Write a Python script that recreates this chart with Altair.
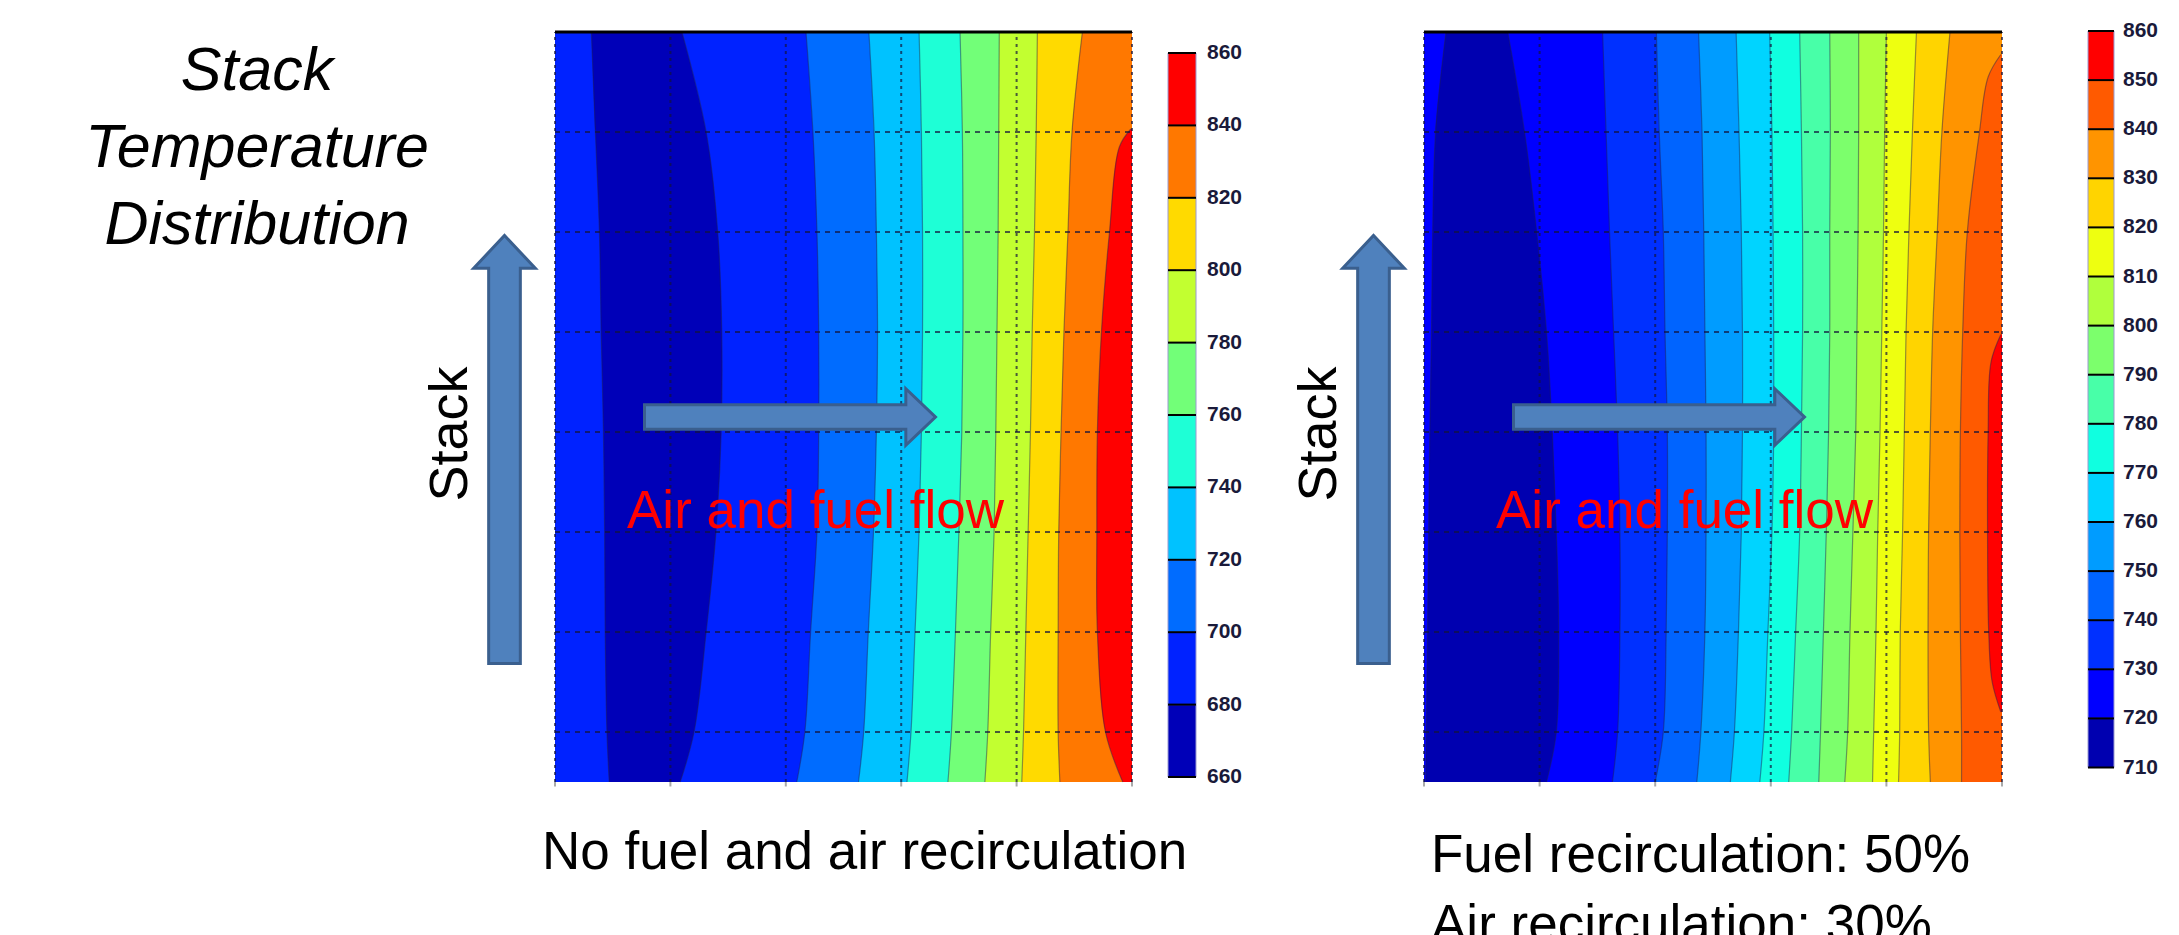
import altair as alt
import pandas as pd

# ---------------- data ----------------
Y_ROWS = [150, 130, 110, 90, 70, 50, 30, 10, 0]      # stack positions where contours were read
X_MAX = 100
Y_MAX = 150
GRID_X = [0, 20, 40, 60, 80, 100]
GRID_Y = [10, 30, 50, 70, 90, 110, 130]

# Left panel: no fuel and air recirculation (contour x-positions, % of flow length)
L_LEVELS = [660, 680, 700, 720, 740, 760, 780, 800, 820, 840, 860]
L_COLORS = ["#0000B8", "#0022FF", "#006CFF", "#00C2FF", "#1EFFD6",
            "#72FF78", "#C2FF30", "#FFDA00", "#FF7800", "#FF0000"]
L_CORE_W = [6.3, 7.0, 7.7, 8.0, 8.4, 8.6, 8.7, 9.0, 9.4]          # 680 contour, west side
L_CORE_E = [22.0, 26.2, 28.2, 28.9, 28.8, 27.9, 26.2, 24.1, 21.7]  # 680 contour, east side
L_CONTOUR_LEVELS = [700, 720, 740, 760, 780, 800, 820]
L_C700 = [43.5, 44.7, 45.4, 45.7, 45.7, 45.4, 44.3, 43.3, 41.9]
L_C720 = [54.4, 55.3, 55.7, 55.9, 55.7, 55.2, 54.3, 53.5, 52.6]
L_C740 = [63.1, 63.5, 63.7, 63.7, 63.5, 63.1, 62.4, 61.7, 61.0]
L_C760 = [70.2, 70.6, 70.7, 70.7, 70.5, 70.0, 69.4, 68.7, 68.1]
L_C780 = [77.0, 76.9, 76.8, 76.6, 76.4, 76.1, 75.5, 75.0, 74.5]
L_C800 = [83.6, 83.4, 83.1, 82.7, 82.4, 82.0, 81.6, 81.2, 80.9]
L_C820 = [91.4, 89.6, 88.9, 88.2, 87.7, 87.3, 87.2, 87.2, 87.5]
L_HOT_Y = [130.6, 127, 110, 90, 70, 50, 30, 10, 0]                 # 840 contour
L_HOT_X = [99.8, 97.8, 96.1, 94.7, 94.0, 93.9, 94.0, 95.4, 98.4]

# Right panel: fuel recirculation 50 %, air recirculation 30 %
R_LEVELS = [710, 720, 730, 740, 750, 760, 770, 780, 790, 800, 810, 820, 830, 840, 850, 860]
R_COLORS = ["#0000B0", "#0000FF", "#0030FF", "#0064FF", "#009CFF", "#00D4FF",
            "#10FFE0", "#48FFA8", "#7CFF6C", "#B0FF3C", "#EEFF10", "#FFD400",
            "#FF9400", "#FF5A00", "#FF0000"]
R_CORE_W = [3.8, 2.0, 1.5, 1.3, 1.0, 0.8, 0.6, 0.4, 0.3]             # 720 contour, west side
R_CORE_E = [14.5, 17.4, 19.5, 21.2, 22.2, 22.9, 23.3, 22.9, 21.2]    # 720 contour, east side
R_CONTOUR_LEVELS = [730, 740, 750, 760, 770, 780, 790, 800, 810, 820, 830]
R_C730 = [30.9, 31.5, 32.1, 32.8, 33.5, 33.9, 33.9, 33.5, 32.6]
R_C740 = [40.2, 40.7, 41.4, 41.7, 42.1, 42.1, 41.9, 41.4, 40.0]
R_C750 = [47.5, 48.1, 48.4, 48.6, 48.8, 48.8, 48.6, 47.9, 47.2]
R_C760 = [54.0, 54.5, 54.9, 55.1, 55.1, 54.9, 54.4, 53.7, 53.0]
R_C770 = [59.8, 60.2, 60.4, 60.5, 60.5, 60.2, 59.5, 58.8, 58.1]
R_C780 = [65.0, 65.3, 65.5, 65.5, 65.3, 65.0, 64.3, 63.6, 63.1]
R_C790 = [70.2, 70.3, 70.2, 70.2, 70.0, 69.6, 69.1, 68.6, 68.3]
R_C800 = [75.2, 75.2, 75.1, 74.9, 74.7, 74.2, 73.7, 73.3, 72.8]
R_C810 = [80.0, 79.7, 79.5, 79.2, 78.9, 78.5, 78.2, 77.8, 77.6]
R_C820 = [85.2, 84.5, 83.9, 83.4, 83.1, 82.8, 82.4, 82.3, 82.1]
R_C830 = [91.0, 89.6, 88.8, 88.0, 87.6, 87.3, 87.2, 87.3, 87.6]
R_HOT1_Y = [145.5, 141, 130, 110, 90, 70, 50, 30, 10, 0]             # 840 contour
R_HOT1_X = [99.8, 97.6, 96.1, 94.0, 93.2, 92.8, 92.7, 92.8, 93.0, 93.0]
R_HOT2_Y = [89.5, 84, 70, 50, 30, 20, 14]                             # 850 contour
R_HOT2_X = [99.8, 98.1, 97.6, 97.5, 97.7, 98.3, 99.8]

TITLE_LINES = ["Stack", "Temperature", "Distribution"]
AXIS_LABEL = "Stack"
FLOW_LABEL = "Air and fuel flow"
LEFT_CAPTION = ["No fuel and air recirculation"]
RIGHT_CAPTION = ["Fuel recirculation: 50%", "Air recirculation: 30%"]

# ---------------- layout ----------------
FONT = "Liberation Sans"
H = 912
W_A, W_B, W_C, W_D, W_E = 547, 577, 292, 578, 169
ARROW_FILL = "#4F81BD"
ARROW_EDGE = "#3A5F8E"
H_ARROW = "M -1 -0.085 L 0.796 -0.085 L 0.796 -0.194 L 1 0 L 0.796 0.194 L 0.796 0.085 L -1 0.085 Z"
V_ARROW = "M -0.074 1 L -0.074 -0.847 L -0.144 -0.847 L 0 -1 L 0.144 -0.847 L 0.074 -0.847 L 0.074 1 Z"


def lin_domain(v_top, px_top, v_bot, px_bot):
    k = (v_top - v_bot) / (px_bot - px_top)
    return [v_bot - (H - px_bot) * k, v_top + px_top * k]


PANEL_YDOM = lin_domain(Y_MAX, 24, 0, 774)
LCB_YDOM = lin_domain(860, 45, 660, 769)
RCB_YDOM = lin_domain(860, 23, 710, 759.5)


def one():
    return pd.DataFrame({"k": [0]})


def build(levels, colors, bg_band, core_band, core_w, core_e, contour_levels, contour_xs, hots):
    col = dict(zip(levels[:-1], colors))
    regions, lines = [], []
    regions.append(pd.DataFrame({"y": [0, Y_MAX], "x0": [0, 0], "x1": [X_MAX, X_MAX],
                                 "col": [col[bg_band]] * 2}))
    regions.append(pd.DataFrame({"y": Y_ROWS, "x0": core_w, "x1": core_e,
                                 "col": [col[core_band]] * len(Y_ROWS)}))
    for y, a, b in zip(Y_ROWS, core_w, core_e):
        lines.append(dict(line=0, y=y, x=a))
        lines.append(dict(line=1, y=y, x=b))
    lid = 2
    for band, xs in zip(contour_levels, contour_xs):
        regions.append(pd.DataFrame({"y": Y_ROWS, "x0": xs, "x1": [X_MAX] * len(xs),
                                     "col": [col[band]] * len(xs)}))
        for y, x in zip(Y_ROWS, xs):
            lines.append(dict(line=lid, y=y, x=x))
        lid += 1
    for band, ys, xs in hots:
        regions.append(pd.DataFrame({"y": ys, "x0": xs, "x1": [X_MAX] * len(xs),
                                     "col": [col[band]] * len(xs)}))
        for y, x in zip(ys, xs):
            lines.append(dict(line=lid, y=y, x=x))
        lid += 1
    return regions, pd.DataFrame(lines)


def arrow(shape, length, x, y):
    return alt.Chart(one()).mark_point(
        shape=shape, size=length ** 2, filled=True, fill=ARROW_FILL, stroke=ARROW_EDGE,
        strokeWidth=3, opacity=1
    ).encode(x=alt.value(x), y=alt.value(y))


def text(t, x, y, size, **kw):
    return alt.Chart(one()).mark_text(text=t, font=FONT, fontSize=size, **kw).encode(
        x=alt.value(x), y=alt.value(y))


def panel(regions, lines_df, width, captions, cap_x, cap_y):
    xs = alt.Scale(domain=[0, X_MAX], nice=False, zero=False)
    ys = alt.Scale(domain=PANEL_YDOM, nice=False, zero=False)
    layers = []
    for reg in regions:
        layers.append(
            alt.Chart(reg)
            .mark_area(orient="horizontal", interpolate="catmull-rom", clip=True, opacity=1)
            .encode(x=alt.X("x0:Q", scale=xs, axis=None), x2="x1:Q",
                    y=alt.Y("y:Q", scale=ys, axis=None),
                    color=alt.Color("col:N", scale=None)))
    layers.append(
        alt.Chart(lines_df).mark_line(interpolate="catmull-rom", clip=True, strokeWidth=1.2,
                                      color="#202050", opacity=0.45)
        .encode(x=alt.X("x:Q", scale=xs, axis=None), y=alt.Y("y:Q", scale=ys, axis=None),
                detail="line:N", order="y:Q"))
    hgrid = pd.DataFrame({"gy": GRID_Y, "a": [0] * len(GRID_Y), "b": [X_MAX] * len(GRID_Y)})
    layers.append(
        alt.Chart(hgrid).mark_rule(strokeDash=[5, 5], strokeWidth=2, color="#14143c", opacity=0.7)
        .encode(y=alt.Y("gy:Q", scale=ys, axis=None), x=alt.X("a:Q", scale=xs, axis=None), x2="b:Q"))
    vgrid = pd.DataFrame({"gx": GRID_X, "a": [0] * len(GRID_X), "b": [Y_MAX] * len(GRID_X),
                          "t": [-0.9] * len(GRID_X)})
    layers.append(
        alt.Chart(vgrid).mark_rule(strokeDash=[3, 4], strokeWidth=2, color="#14143c", opacity=0.7)
        .encode(x=alt.X("gx:Q", scale=xs, axis=None), y=alt.Y("a:Q", scale=ys, axis=None), y2="b:Q"))
    layers.append(
        alt.Chart(vgrid).mark_rule(strokeWidth=2, color="#aaaaaa")
        .encode(x=alt.X("gx:Q", scale=xs, axis=None), y=alt.Y("a:Q", scale=ys, axis=None), y2="t:Q"))
    top = pd.DataFrame({"y": [Y_MAX], "a": [0], "b": [X_MAX]})
    layers.append(
        alt.Chart(top).mark_rule(strokeWidth=3, color="#000000")
        .encode(y=alt.Y("y:Q", scale=ys, axis=None), x=alt.X("a:Q", scale=xs, axis=None), x2="b:Q"))
    layers.append(arrow(H_ARROW, 291, 235, 409))
    layers.append(text(FLOW_LABEL, 72, 520, 53, color="#FF0000", align="left", baseline="alphabetic"))
    for i, line in enumerate(captions):
        layers.append(text(line, cap_x, cap_y + 70 * i, 53, color="#000000", align="left",
                           baseline="alphabetic"))
    return alt.layer(*layers).properties(width=width, height=H)


def colorbar(levels, colors, ydom, x0, x1, lx, width, extra):
    ys = alt.Scale(domain=ydom, nice=False, zero=False)
    df = pd.DataFrame({"lo": levels[:-1], "hi": levels[1:], "col": colors})
    ticks = pd.DataFrame({"v": levels})
    rects = alt.Chart(df).mark_rect(stroke="#9a9ad0", strokeWidth=1).encode(
        x=alt.value(x0), x2=alt.value(x1),
        y=alt.Y("lo:Q", scale=ys, axis=None), y2="hi:Q",
        color=alt.Color("col:N", scale=None))
    seps = alt.Chart(ticks).mark_rule(color="#000000", strokeWidth=2).encode(
        x=alt.value(x0), x2=alt.value(x1), y=alt.Y("v:Q", scale=ys, axis=None))
    labels = alt.Chart(ticks).mark_text(
        align="left", baseline="middle", font=FONT, fontSize=21, fontWeight="bold",
        color="#1a1a3a").encode(x=alt.value(lx), y=alt.Y("v:Q", scale=ys, axis=None), text="v:Q")
    return alt.layer(rects, seps, labels, *extra).properties(width=width, height=H)


def stack_marker(label_x, arrow_x):
    return [
        text(AXIS_LABEL, label_x, 426, 54, color="#000000", align="center",
             baseline="alphabetic", angle=270),
        arrow(V_ARROW, 428, arrow_x, 441.5),
    ]


L_REG, L_LINES = build(L_LEVELS, L_COLORS, 680, 660, L_CORE_W, L_CORE_E, L_CONTOUR_LEVELS,
                       [L_C700, L_C720, L_C740, L_C760, L_C780, L_C800, L_C820],
                       [(840, L_HOT_Y, L_HOT_X)])
R_REG, R_LINES = build(R_LEVELS, R_COLORS, 720, 710, R_CORE_W, R_CORE_E, R_CONTOUR_LEVELS,
                       [R_C730, R_C740, R_C750, R_C760, R_C770, R_C780, R_C790,
                        R_C800, R_C810, R_C820, R_C830],
                       [(840, R_HOT1_Y, R_HOT1_X), (850, R_HOT2_Y, R_HOT2_X)])

title_layers = [text(t, 249, 82 + 77 * i, 61, color="#000000", align="center",
                     baseline="alphabetic", fontStyle="italic")
                for i, t in enumerate(TITLE_LINES)]
col_a = alt.layer(*title_layers, *stack_marker(459, 496.5)).properties(width=W_A, height=H)
col_b = panel(L_REG, L_LINES, W_B, LEFT_CAPTION, -13, 861)
col_c = colorbar(L_LEVELS, L_COLORS, LCB_YDOM, 36, 64, 75, W_C, stack_marker(204, 241.5))
col_d = panel(R_REG, R_LINES, W_D, RIGHT_CAPTION, 7, 864)
col_e = colorbar(R_LEVELS, R_COLORS, RCB_YDOM, 86, 112, 121, W_E, [])

chart = alt.hconcat(col_a, col_b, col_c, col_d, col_e, spacing=0, bounds="flush",
                    padding=0).configure_view(strokeWidth=0)

chart.save("out.html", embed_options={"renderer": "svg", "actions": False})
